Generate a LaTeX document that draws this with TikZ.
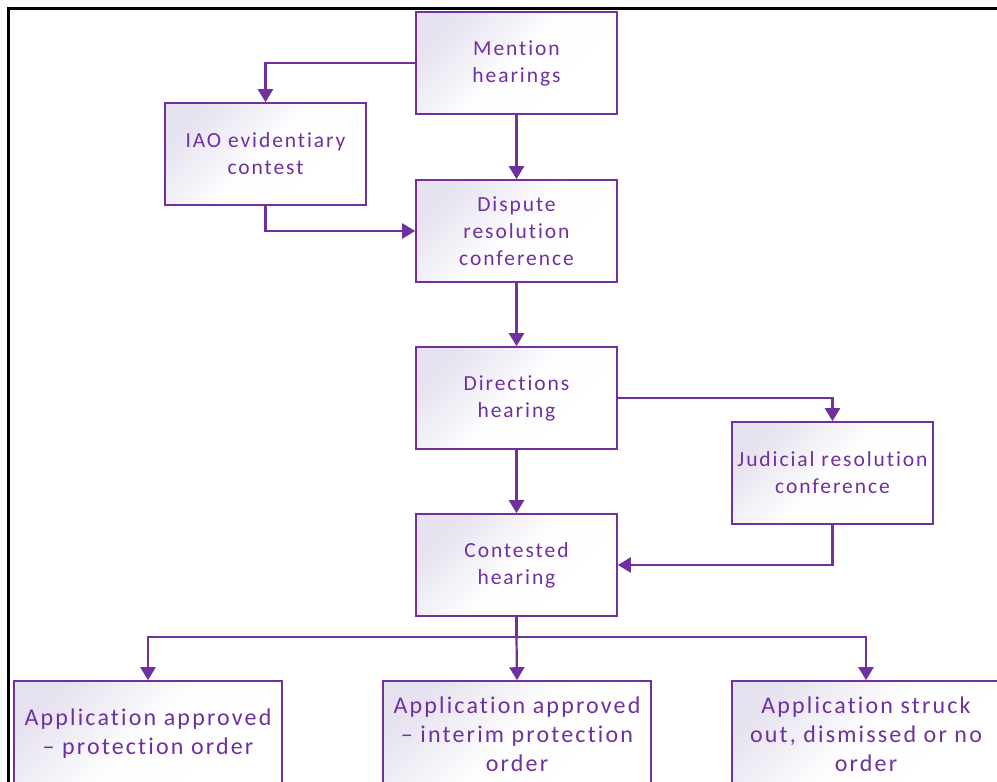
\documentclass[tikz,border=0pt]{standalone}
\usepackage{fontspec}
\setmainfont{Carlito}[LetterSpace=9,Ligatures={NoCommon}]
\usetikzlibrary{arrows.meta}
\definecolor{pur}{HTML}{7030A0}
\definecolor{lav}{HTML}{E6E2EF}
\begin{document}
\begin{tikzpicture}[x=1pt,y=-1pt,
  box/.style={draw=pur, line width=1.6pt, minimum width=201pt, minimum height=102pt,
    inner sep=0pt, align=center, text=pur, font=\fontsize{21.5}{27}\selectfont,
    top color=lav, bottom color=white, middle color=white!96!lav, shading angle=45},
  bigbox/.style={box, minimum width=268pt, minimum height=106pt,
    font=\fontsize{24}{29}\selectfont},
  line/.style={draw=pur, line width=2.2pt},
  conn/.style={line, -{Triangle[width=15pt,length=13pt]}}]
\useasboundingbox (0,0) rectangle (997,782);
\clip (0,0) rectangle (997,782);
% frame
\draw[line width=3pt] (8.5,782) -- (8.5,8.5) -- (997,8.5);
% nodes
\node[box] (mh) at (516.5,63) {Mention\\hearings};
\node[box] (iao) at (265.5,154) {IAO evidentiary\\contest};
\node[box] (drc) at (516.5,231) {Dispute\\resolution\\conference};
\node[box] (dh) at (516.5,398) {Directions\\hearing};
\node[box] (jrc) at (832.5,473) {Judicial resolution\\conference};
\node[box] (ch) at (516.5,565) {Contested\\hearing};
\node[bigbox] (b1) at (148,734) {Application approved\\– protection order};
\node[bigbox] (b2) at (517,734) {Application approved\\– interim protection\\order};
\node[bigbox] (b3) at (866,734) {Application struck\\out, dismissed or no\\order};
\coordinate (split) at (516.5,637);
% connectors
\draw[conn] (mh.west) -| (iao.north);
\draw[conn] (iao.south) |- (drc.west);
\draw[conn] (mh.south) -- (drc.north);
\draw[conn] (drc.south) -- (dh.north);
\draw[conn] (dh.east) -| (jrc.north);
\draw[conn] (dh.south) -- (ch.north);
\draw[conn] (jrc.south) |- (ch.east);
\draw[line] (ch.south) -- (split);
\draw[conn] (split) -| (b1.north);
\draw[conn] (split) -- (b2.north);
\draw[conn] (split) -| (b3.north);
\end{tikzpicture}
\end{document}
